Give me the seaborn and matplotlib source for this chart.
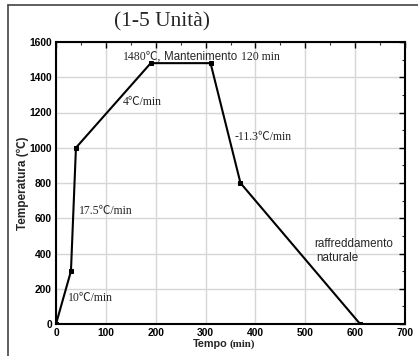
import matplotlib
matplotlib.use("Agg")
import matplotlib.pyplot as plt
from matplotlib.lines import Line2D
from matplotlib.ticker import MultipleLocator
import seaborn as sns
import pandas as pd

# Data
tempo = [0, 30, 40, 190, 310, 370, 610]
temperatura = [0, 300, 1000, 1480, 1480, 800, 0]
title = "(1-5 Unità)"
x_ticks = [0, 100, 200, 300, 400, 500, 600, 700]
y_ticks = [0, 200, 400, 600, 800, 1000, 1200, 1400, 1600]

sns.set_theme(style="white")
plt.rcParams['font.family'] = ['Liberation Sans', 'Noto Sans CJK SC', 'DejaVu Sans']

SERIF = ['Liberation Serif', 'Noto Sans CJK SC', 'DejaVu Sans']
SANS = ['Liberation Sans', 'Noto Sans CJK SC', 'DejaVu Sans']

W, H = 418, 356
fig = plt.figure(figsize=(W / 100, H / 100), dpi=100)
fig.patch.set_facecolor('white')
ax = fig.add_axes([56 / W, (H - 324) / H, (405 - 56) / W, (324 - 42) / H])

df = pd.DataFrame({"Tempo": tempo, "Temperatura": temperatura})
sns.lineplot(data=df, x="Tempo", y="Temperatura", ax=ax, sort=False,
             color="black", linewidth=1.5, marker="s", markersize=2.5,
             markeredgecolor="black", markerfacecolor="black")

ax.set_xlim(0, 700)
ax.set_ylim(0, 1600)
ax.set_xticks(x_ticks)
ax.set_yticks(y_ticks)
ax.xaxis.set_minor_locator(MultipleLocator(50))
ax.yaxis.set_minor_locator(MultipleLocator(100))
ax.grid(True, which='major', color='#d6d6d6', linewidth=1.0)
ax.set_axisbelow(True)
for s in ax.spines.values():
    s.set_visible(True)
    s.set_color('black')
    s.set_linewidth(1.5)
ax.tick_params(which='major', direction='in', length=4, width=1,
               top=True, right=True, labelsize=7.4, pad=3, colors='black')
ax.tick_params(which='minor', direction='in', length=2, width=0.8,
               top=True, right=True)
for lab in ax.get_xticklabels() + ax.get_yticklabels():
    lab.set_fontweight('bold')
    lab.set_family(SANS)

ax.set_xlabel("")
ax.set_ylabel("")

# Axis labels
fig.text(228 / W, 1 - 344 / H, "Tempo", ha='right', va='center',
         fontsize=7.8, fontweight='bold', family=SANS)
fig.text(229 / W, 1 - 344 / H, "(min)", ha='left', va='center',
         fontsize=7.8, fontweight='bold', family=SERIF)
fig.text(23 / W, 1 - 183 / H, "Temperatura (℃)", ha='center', va='center',
         rotation=90, fontsize=8.5, fontweight='bold', family=SANS)

# Title
fig.text(162 / W, 1 - 22 / H, title, ha='center', va='center',
         fontsize=15.5, family=SERIF)

# Annotations
ax.text(134, 1515, "1480℃,", fontsize=8.5, family=SERIF, va='center', ha='left')
ax.text(216, 1515, "Mantenimento", fontsize=8.3, family=SANS, va='center', ha='left')
ax.text(372, 1515, "120 min", fontsize=8.5, family=SERIF, va='center', ha='left')
ax.text(134, 1260, "4℃/min", fontsize=8.5, family=SERIF, va='center', ha='left')
ax.text(46, 642, "17.5℃/min", fontsize=8.5, family=SERIF, va='center', ha='left')
ax.text(24, 147, "10℃/min", fontsize=8.5, family=SERIF, va='center', ha='left')
ax.text(359, 1059, "-11.3℃/min", fontsize=8.5, family=SERIF, va='center', ha='left')
ax.text(517, 454, "raffreddamento", fontsize=8.4, family=SANS, va='center', ha='left')
ax.text(523, 375, "naturale", fontsize=8.4, family=SANS, va='center', ha='left')

# Outer frame (partially visible)
fig.add_artist(Line2D([8 / W, 8 / W], [0, 1 - 4.5 / H], transform=fig.transFigure,
                      color='#444444', linewidth=1.2))
fig.add_artist(Line2D([8 / W, 1], [1 - 4.5 / H, 1 - 4.5 / H], transform=fig.transFigure,
                      color='#444444', linewidth=1.2))

fig.savefig("out.png", dpi=100)
